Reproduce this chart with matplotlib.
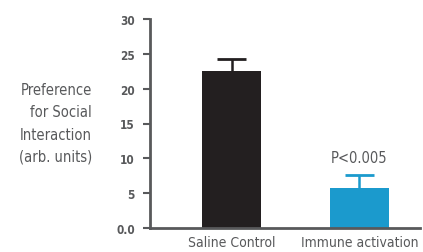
import matplotlib
matplotlib.use("Agg")
import matplotlib.pyplot as plt

plt.rcParams['font.family'] = ['DejaVu Sans']
plt.rcParams['font.stretch'] = 'condensed'

categories = ["Saline Control", "Immune activation"]
values = [22.5, 5.8]
errors = [1.75, 1.8]
colors = ["#231f20", "#1b9acd"]
yticks = [0, 5, 10, 15, 20, 25, 30]
yticklabels = ["0.0", "5", "10", "15", "20", "25", "30"]

gray = "#58595b"
fig = plt.figure(figsize=(4.23, 2.53), dpi=100)
ax = fig.add_axes([150/423, 1-229/253, 270/423, 209/253])
x = [0, 1]
capw = 0.115
for xi, v, e, c in zip(x, values, errors, colors):
    ax.bar(xi, v, width=0.46, color=c, zorder=2)
    ax.vlines(xi, v, v + e, color=c, lw=1.8, zorder=1)
    ax.hlines(v + e, xi - capw, xi + capw, color=c, lw=2, zorder=1)

ax.set_xlim(-0.637, 1.473)
ax.set_ylim(0, 30)
ax.set_yticks(yticks)
ax.set_yticklabels(yticklabels, fontsize=8.5, fontweight='bold', color=gray)
ax.set_xticks(x)
ax.set_xticklabels(categories, fontsize=10, color=gray)
ax.tick_params(axis='x', length=0, pad=5)
ax.tick_params(axis='y', length=5, width=1.5, color=gray, pad=6)
for s in ['top', 'right']:
    ax.spines[s].set_visible(False)
for s in ['left', 'bottom']:
    ax.spines[s].set_color(gray)
    ax.spines[s].set_linewidth(2)

ax.text(1, values[1] + errors[1] + 1.5, "P<0.005", ha='center', va='bottom', fontsize=10.5, color=gray)
fig.text(92/423, 1-124/253, "Preference\nfor Social\nInteraction\n(arb. units)", ha='right', va='center',
         fontsize=10.5, color=gray, linespacing=1.6)

fig.savefig("out.png", dpi=100)
